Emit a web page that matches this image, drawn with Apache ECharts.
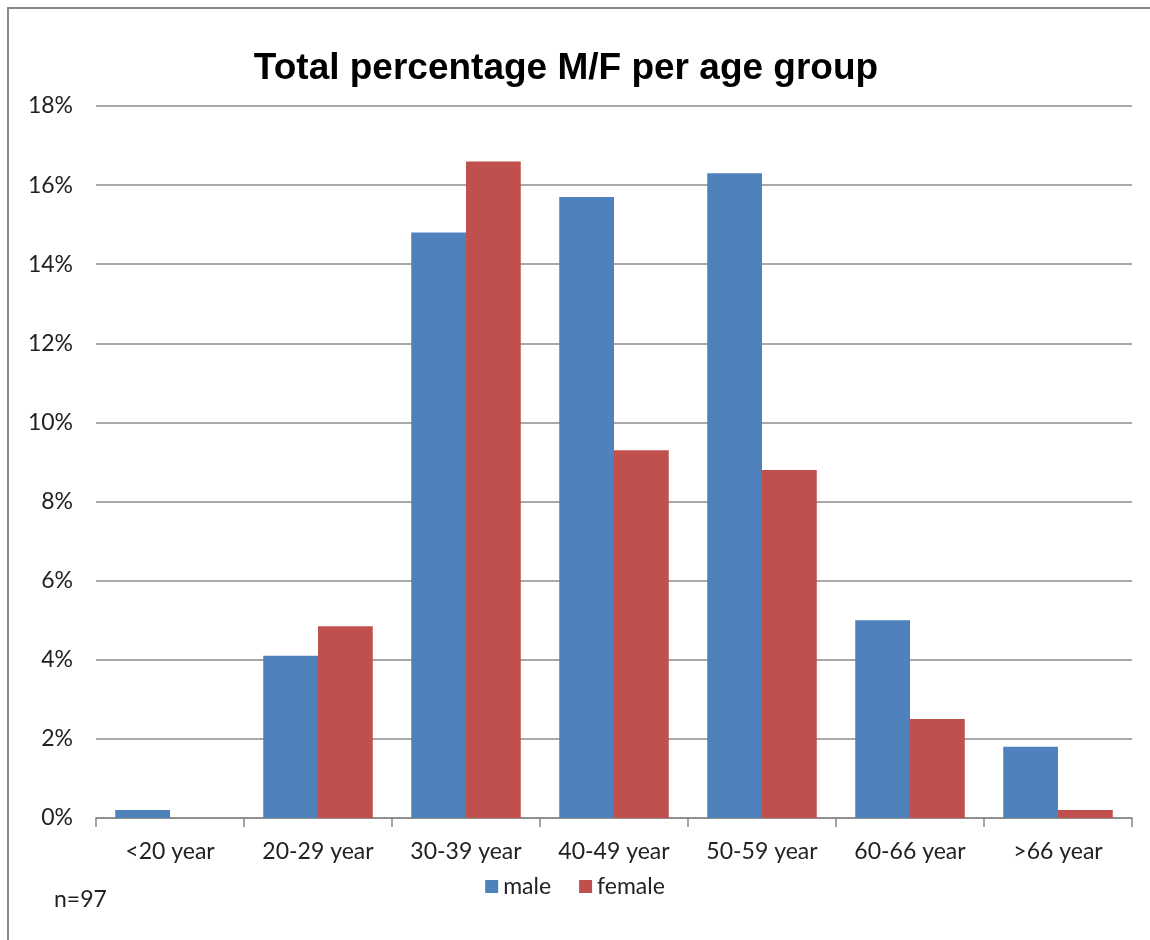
<!DOCTYPE html>
<html>
<head>
<meta charset="utf-8">
<title>Total percentage M/F per age group</title>
<script src="https://cdn.jsdelivr.net/npm/echarts@6/dist/echarts.min.js"></script>
<style>
    html, body { margin: 0; padding: 0; background: #fff; }
    #chart { width: 1150px; height: 940px; }
</style>
</head>
<body>
<div id="chart"></div>
<script>
// age groups on the x axis
const ageGroups = ['<20 year', '20-29 year', '30-39 year', '40-49 year', '50-59 year', '60-66 year', '>66 year']
// percentages
const maleValues = [0.2, 4.1, 14.8, 15.7, 16.3, 5.0, 1.8]
const femaleValues = [0, 4.85, 16.6, 9.3, 8.8, 2.5, 0.2]
const yTicks = [0, 2, 4, 6, 8, 10, 12, 14, 16, 18]

const labelFont = 'Lato, "Open Sans", sans-serif'

const chart = echarts.init(document.getElementById('chart'))

chart.setOption({
    animation: false,
    backgroundColor: '#fff',
    title: {
        text: 'Total percentage M/F per age group',
        left: 561,
        top: 45,
        textAlign: 'center',
        textStyle: {
            fontFamily: '"Liberation Sans", Arial, sans-serif',
            fontWeight: 'bold',
            fontSize: 37,
            color: '#000'
        }
    },
    legend: {
        bottom: 37,
        left: 'center',
        itemWidth: 13,
        itemHeight: 13,
        itemGap: 28,
        icon: 'rect',
        textStyle: {fontFamily: labelFont, fontSize: 23, color: '#222'},
        data: ['male', 'female']
    },
    grid: {left: 96, right: 18, top: 106, bottom: 122},
    xAxis: {
        type: 'category',
        data: ageGroups,
        axisLine: {lineStyle: {color: '#868686', width: 1.5}},
        axisTick: {show: true, length: 9, lineStyle: {color: '#868686', width: 1.5}},
        axisLabel: {fontFamily: labelFont, fontSize: 23, color: '#222', margin: 22}
    },
    yAxis: {
        type: 'value',
        min: yTicks[0],
        max: yTicks[yTicks.length - 1],
        interval: 2,
        axisLine: {show: false},
        axisTick: {show: false},
        splitLine: {lineStyle: {color: '#8c8c8c', width: 1.5}},
        axisLabel: {
            fontFamily: labelFont,
            fontSize: 23,
            color: '#222',
            margin: 23,
            formatter: v => v + '%'
        }
    },
    series: [
        {
            name: 'male',
            type: 'bar',
            data: maleValues,
            itemStyle: {color: '#4F81BD'},
            barGap: '0%',
            barCategoryGap: '26%'
        },
        {
            name: 'female',
            type: 'bar',
            data: femaleValues,
            itemStyle: {color: '#C0504D'},
            barGap: '0%',
            barCategoryGap: '26%'
        }
    ],
    graphic: [
        {
            type: 'polyline',
            shape: {points: [[8, 940], [8, 8], [1150, 8]]},
            style: {stroke: '#8a8a8a', lineWidth: 2, fill: null}
        },
        {
            type: 'text',
            left: 54,
            top: 888,
            style: {text: 'n=97', font: '23px ' + labelFont, fill: '#222'}
        }
    ]
})
</script>
</body>
</html>
